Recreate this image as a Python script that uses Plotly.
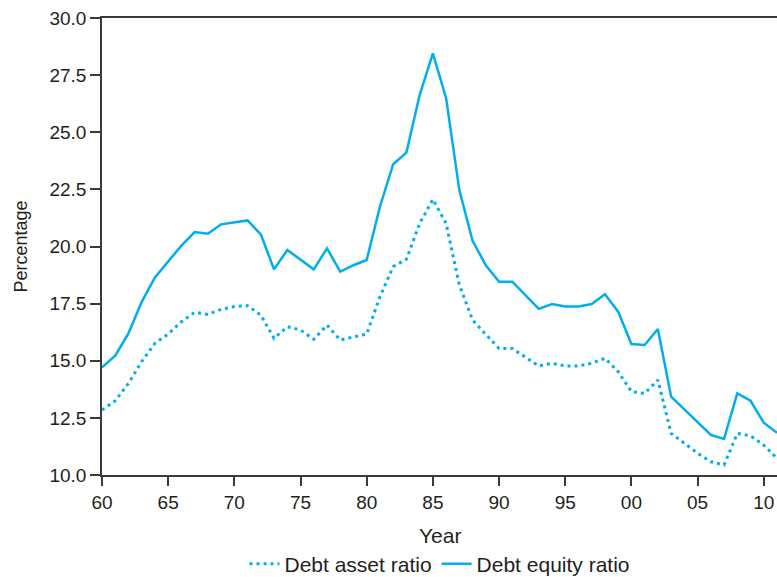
import plotly.graph_objects as go

years = list(range(1960, 2012))

debt_equity = [14.71, 15.22, 16.20, 17.58, 18.65, 19.34, 20.04, 20.63, 20.56, 20.97,
               21.07, 21.14, 20.53, 19.00, 19.85, 19.44, 19.00, 19.92, 18.90, 19.18,
               19.41, 21.74, 23.60, 24.11, 26.63, 28.45, 26.49, 22.47, 20.25, 19.18,
               18.46, 18.46, 17.88, 17.27, 17.48, 17.37, 17.37, 17.48, 17.91, 17.15,
               15.73, 15.69, 16.39, 13.43, 12.87, 12.33, 11.75, 11.58, 13.57, 13.25,
               12.29, 11.85]

debt_asset = [12.84, 13.25, 14.01, 14.96, 15.76, 16.17, 16.71, 17.12, 17.03, 17.25,
              17.37, 17.41, 17.00, 15.98, 16.49, 16.35, 15.94, 16.56, 15.91, 16.05,
              16.17, 17.80, 19.12, 19.44, 21.01, 22.06, 21.01, 18.31, 16.78, 16.15,
              15.54, 15.54, 15.15, 14.77, 14.89, 14.77, 14.77, 14.89, 15.11, 14.52,
              13.65, 13.57, 14.16, 11.82, 11.39, 10.95, 10.58, 10.44, 11.82, 11.71,
              11.31, 10.73]

x_tick_vals = list(range(1960, 2011, 5))
x_tick_text = ["60", "65", "70", "75", "80", "85", "90", "95", "00", "05", "10"]
y_tick_vals = [10.0, 12.5, 15.0, 17.5, 20.0, 22.5, 25.0, 27.5, 30.0]

color = "#00aeef"
text_color = "#231f20"
axis_color = "#3a3a3a"

fig = go.Figure()
fig.add_trace(go.Scatter(x=years, y=debt_asset, mode="lines", name="Debt asset ratio",
                         line=dict(color=color, width=3, dash="3px,4px")))
fig.add_trace(go.Scatter(x=years, y=debt_equity, mode="lines", name="Debt equity ratio",
                         line=dict(color=color, width=2.5)))

fig.update_layout(
    width=777, height=577,
    margin=dict(l=102, r=0, t=18, b=102),
    paper_bgcolor="white", plot_bgcolor="white",
    font=dict(family="Liberation Sans, Arial, sans-serif", size=19, color=text_color),
    showlegend=True,
    legend=dict(orientation="h", x=0.5, xanchor="center",
                yref="container", y=1 - 564 / 577, yanchor="middle",
                font=dict(size=21), itemwidth=30, traceorder="normal"),
    xaxis=dict(range=[1960, 2011], tickvals=x_tick_vals, ticktext=x_tick_text,
               showgrid=False, zeroline=False, showline=True, linecolor=axis_color,
               linewidth=1.5, mirror=True, ticks="outside", ticklen=9, tickcolor=axis_color,
               tickwidth=1.5, tickfont=dict(size=19), automargin=False),
    yaxis=dict(range=[10, 30], tickvals=y_tick_vals, tickformat=".1f",
               showgrid=False, zeroline=False, showline=True, linecolor=axis_color,
               linewidth=1.5, ticks="outside", ticklen=10, tickcolor=axis_color,
               tickwidth=1.5, tickfont=dict(size=19), automargin=False,
               title=dict(text="Percentage", font=dict(size=18), standoff=17)),
    annotations=[dict(text="Year", xref="paper", x=0.5, xanchor="center",
                      yref="paper", y=-60 / 457, yanchor="middle",
                      showarrow=False, font=dict(size=21, color=text_color))],
)

fig.write_html("out.html", config={"displayModeBar": False},
               post_script="document.body.style.margin='0';")
